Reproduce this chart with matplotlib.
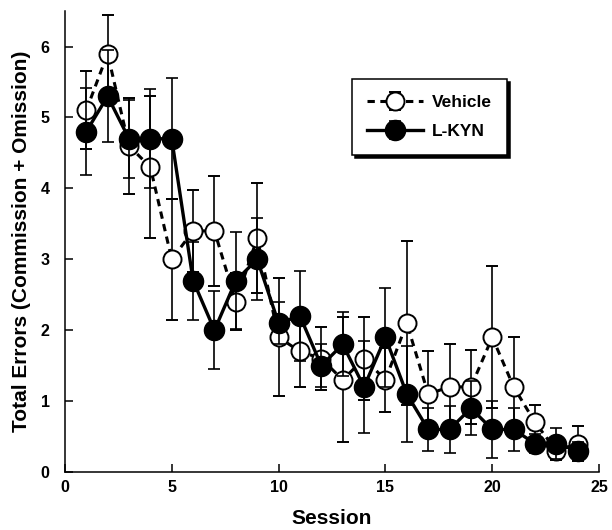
import numpy as np
import matplotlib.pyplot as plt

# === Data ===
sessions = np.arange(1, 25)
vehicle = [5.1, 5.9, 4.6, 4.3, 3.0, 3.4, 3.4, 2.4, 3.3, 1.9, 1.7, 1.6,
           1.3, 1.6, 1.3, 2.1, 1.1, 1.2, 1.2, 1.9, 1.2, 0.7, 0.3, 0.4]
vehicle_err = [0.55, 0.55, 0.68, 1.0, 0.85, 0.58, 0.77, 0.4, 0.78, 0.83, 0.5, 0.45,
               0.88, 0.58, 0.45, 1.16, 0.6, 0.6, 0.52, 1.0, 0.7, 0.25, 0.13, 0.25]
lkyn = [4.8, 5.3, 4.7, 4.7, 4.7, 2.7, 2.0, 2.7, 3.0, 2.1, 2.2, 1.5,
        1.8, 1.2, 1.9, 1.1, 0.6, 0.6, 0.9, 0.6, 0.6, 0.4, 0.4, 0.3]
lkyn_err = [0.61, 0.65, 0.55, 0.7, 0.85, 0.55, 0.55, 0.68, 0.58, 0.3, 0.63, 0.3,
            0.45, 0.65, 0.7, 0.68, 0.3, 0.33, 0.38, 0.4, 0.3, 0.13, 0.22, 0.12]

xticks = [0, 5, 10, 15, 20, 25]
yticks = [0, 1, 2, 3, 4, 5, 6]

plt.rcParams['font.family'] = ['Liberation Sans', 'DejaVu Sans']
plt.rcParams['font.weight'] = 'bold'

fig = plt.figure(figsize=(6.12, 5.30), dpi=100)
ax = fig.add_axes([0.106, 0.1094, 0.873, 0.8696])

# === Series ===
ax.errorbar(sessions, vehicle, yerr=vehicle_err, fmt='o', color='black',
            ls=(0, (2.4, 1.8)), lw=2.2, ms=13, mfc='white', mec='black', mew=1.4,
            ecolor='black', elinewidth=1.2, capsize=4, capthick=1.2,
            label='Vehicle', zorder=2)
ax.errorbar(sessions, lkyn, yerr=lkyn_err, fmt='o', color='black',
            ls='-', lw=2.4, ms=14.5, mfc='black', mec='black',
            ecolor='black', elinewidth=1.2, capsize=4, capthick=1.2,
            label='L-KYN', zorder=3)

# === Axes ===
ax.set_xlim(0, 25)
ax.set_ylim(0, 6.5)
ax.set_xticks(xticks)
ax.set_yticks(yticks)
ax.spines['top'].set_visible(False)
ax.spines['right'].set_visible(False)
for s in ['left', 'bottom']:
    ax.spines[s].set_linewidth(1.1)
ax.tick_params(direction='in', length=6, width=1.1, labelsize=11.5)
ax.tick_params(axis='y', pad=11)
ax.tick_params(axis='x', pad=6)
ax.set_xlabel('Session', fontsize=15, fontweight='bold', labelpad=10)
ax.set_ylabel('Total Errors (Commission + Omission)', fontsize=15,
              fontweight='bold', labelpad=7)

leg = ax.legend(loc='upper left', bbox_to_anchor=(0.537, 0.852), fontsize=12.5,
                frameon=True, fancybox=False, edgecolor='black', borderpad=0.9,
                borderaxespad=0, handlelength=3.2, handletextpad=0.5,
                labelspacing=0.8,
                shadow={'color': 'black', 'alpha': 1})
leg.get_frame().set_linewidth(1.1)

plt.savefig('out.png', dpi=100)
